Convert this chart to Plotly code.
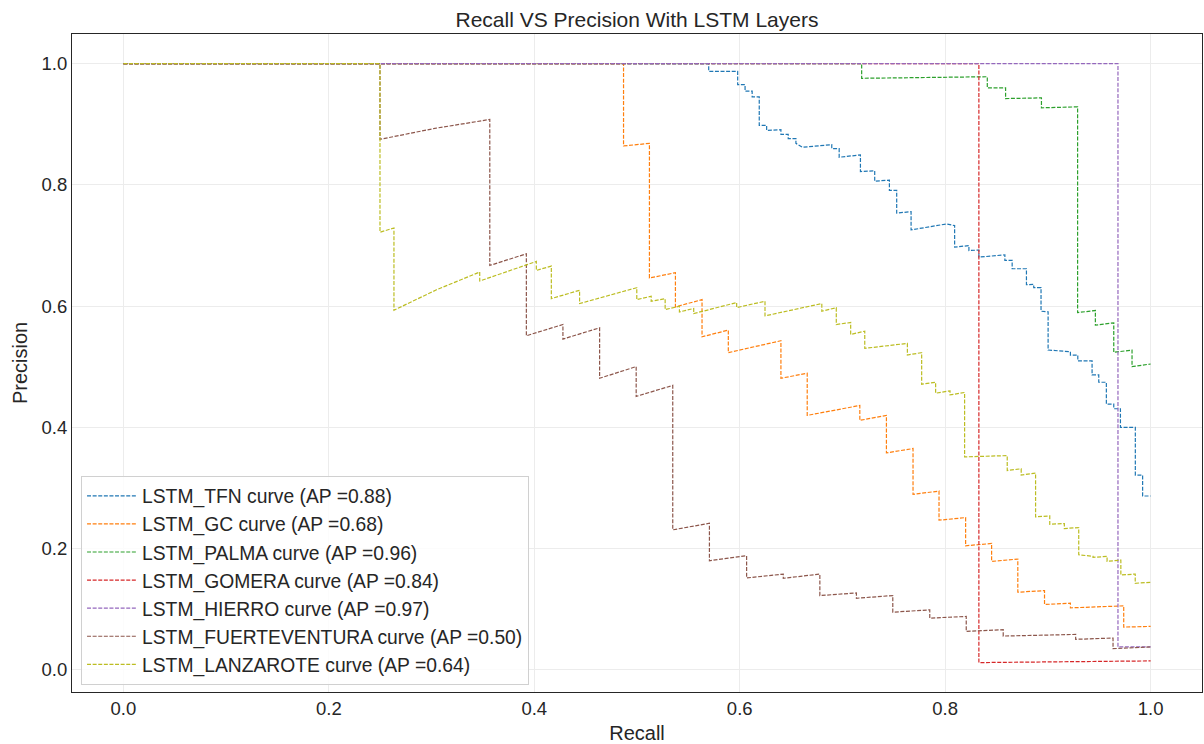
import plotly.graph_objects as go

# Precision-recall curves for each island model (recall, precision pairs)
tfn_recall = [0.0, 0.5698, 0.5698, 0.598, 0.598, 0.6052, 0.6052, 0.6121, 0.6121, 0.619, 0.619,
              0.6262, 0.6262, 0.6401, 0.6401, 0.6472, 0.6472, 0.6547, 0.6547, 0.6611, 0.6896, 0.6896,
              0.6968, 0.6968, 0.7175, 0.7175, 0.7314, 0.7314, 0.7457, 0.7457, 0.7528, 0.7528, 0.7668,
              0.7668, 0.8011, 0.8092, 0.8092, 0.8231, 0.8231, 0.8328, 0.8328, 0.8581, 0.8581, 0.8652,
              0.8652, 0.8791, 0.8791, 0.8862, 0.8862, 0.8933, 0.8933, 0.9002, 0.9002, 0.9219, 0.9219,
              0.9291, 0.9291, 0.943, 0.943, 0.9495, 0.9495, 0.9569, 0.9569, 0.9641, 0.9641, 0.9706,
              0.9706, 0.9851, 0.9851, 0.9922, 0.9922, 1.0]
tfn_precision = [1.0, 1.0, 0.9874, 0.9874, 0.9655, 0.9655, 0.9546, 0.9546, 0.9453, 0.9453, 0.8982,
                 0.8982, 0.89, 0.8911, 0.8834, 0.8834, 0.8763, 0.8763, 0.8686, 0.8621, 0.8664, 0.8599,
                 0.8599, 0.8457, 0.8495, 0.8221, 0.8232, 0.8062, 0.8079, 0.7909, 0.7909, 0.7537, 0.7559,
                 0.7258, 0.7356, 0.7329, 0.6973, 0.7, 0.6918, 0.6925, 0.6809, 0.6847, 0.6754, 0.6754,
                 0.6617, 0.6617, 0.6355, 0.636, 0.6305, 0.6305, 0.5917, 0.5906, 0.5276, 0.5249, 0.5194,
                 0.5194, 0.5096, 0.5096, 0.4866, 0.4866, 0.4745, 0.4745, 0.4384, 0.4384, 0.4308, 0.4308,
                 0.4001, 0.4001, 0.3213, 0.3213, 0.2868, 0.2868]

gc_recall = [0.0, 0.4869, 0.4869, 0.5121, 0.5121, 0.5374, 0.5374, 0.5633, 0.5633, 0.5889, 0.5889,
             0.6401, 0.6401, 0.6657, 0.6657, 0.7169, 0.7169, 0.7428, 0.7428, 0.7687, 0.7687, 0.794,
             0.794, 0.8199, 0.8199, 0.8452, 0.8452, 0.8707, 0.8707, 0.8967, 0.8967, 0.9219, 0.9219,
             0.9738, 0.9738, 1.0]
gc_precision = [1.0, 1.0, 0.8643, 0.8686, 0.6464, 0.6552, 0.5988, 0.6108, 0.5495, 0.5605, 0.5233,
                0.543, 0.4811, 0.4893, 0.4198, 0.4362, 0.4116, 0.4198, 0.358, 0.3651, 0.2895, 0.295,
                0.2469, 0.2512, 0.2047, 0.2085, 0.179, 0.1828, 0.1281, 0.1308, 0.1078, 0.11, 0.1023,
                0.1056, 0.0706, 0.0717]

palma_recall = [0.0, 0.7187, 0.7187, 0.841, 0.841, 0.8588, 0.8588, 0.8937, 0.8937, 0.9289, 0.9289,
                0.9462, 0.9462, 0.9641, 0.9641, 0.9819, 0.9819, 1.0]
palma_precision = [1.0, 1.0, 0.9759, 0.9785, 0.96, 0.96, 0.9425, 0.9436, 0.9272, 0.9288, 0.5895,
                   0.5928, 0.5687, 0.5725, 0.5238, 0.5276, 0.5003, 0.5046]

gomera_recall = [0.0, 0.8328, 0.8328, 1.0]
gomera_precision = [1.0, 1.0, 0.012, 0.0148]

hierro_recall = [0.0, 0.9682, 0.9682, 1.0]
hierro_precision = [1.0, 1.0, 0.0378, 0.0378]

fuerte_recall = [0.0, 0.2498, 0.2498, 0.3032, 0.3567, 0.3567, 0.3923, 0.3923, 0.4279, 0.4279, 0.4636,
                 0.4636, 0.4992, 0.4992, 0.5348, 0.5348, 0.5705, 0.5705, 0.6067, 0.6067, 0.6424, 0.6424,
                 0.678, 0.678, 0.7136, 0.7136, 0.749, 0.749, 0.785, 0.785, 0.8205, 0.8205, 0.8565,
                 0.8565, 0.927, 0.927, 0.9634, 0.9634, 1.0]
fuerte_precision = [1.0, 1.0, 0.8752, 0.8933, 0.908, 0.6672, 0.6864, 0.5512, 0.5698, 0.5457, 0.5643,
                    0.4811, 0.5003, 0.4511, 0.4693, 0.231, 0.2419, 0.18, 0.1883, 0.1516, 0.158, 0.1511,
                    0.158, 0.1226, 0.1269, 0.1182, 0.1226, 0.0952, 0.099, 0.0854, 0.0882, 0.0635, 0.0662,
                    0.0558, 0.0585, 0.0504, 0.0525, 0.035, 0.0378]

lanza_recall = [0.0, 0.2498, 0.2498, 0.2634, 0.2634, 0.3048, 0.3469, 0.3469, 0.402, 0.402, 0.4166,
                0.4166, 0.4441, 0.4441, 0.4998, 0.4998, 0.5138, 0.5138, 0.5274, 0.5274, 0.5413, 0.5413,
                0.5552, 0.5552, 0.597, 0.597, 0.6246, 0.6246, 0.6799, 0.6799, 0.694, 0.694, 0.708,
                0.708, 0.7217, 0.7217, 0.7632, 0.7632, 0.7771, 0.7771, 0.7907, 0.7907, 0.8047, 0.8047,
                0.8189, 0.8189, 0.8604, 0.8604, 0.874, 0.874, 0.888, 0.888, 0.9018, 0.9018, 0.916,
                0.916, 0.93, 0.93, 0.9439, 0.9439, 0.9576, 0.9576, 0.971, 0.971, 0.985, 0.985, 1.0]
lanza_precision = [1.0, 1.0, 0.722, 0.729, 0.5933, 0.627, 0.6563, 0.6415, 0.6738, 0.659, 0.6661,
                   0.6125, 0.6262, 0.6043, 0.6305, 0.6108, 0.6163, 0.6081, 0.6125, 0.5944, 0.5999,
                   0.5906, 0.5961, 0.5878, 0.6059, 0.5977, 0.6081, 0.584, 0.6043, 0.5917, 0.5975,
                   0.5698, 0.573, 0.5534, 0.5588, 0.5304, 0.5386, 0.5195, 0.5233, 0.4713, 0.4745,
                   0.4565, 0.4603, 0.4537, 0.4576, 0.3514, 0.3535, 0.3289, 0.3317, 0.3213, 0.3246,
                   0.2524, 0.254, 0.2402, 0.2414, 0.2332, 0.2348, 0.1899, 0.1872, 0.1856, 0.1872,
                   0.179, 0.1811, 0.1565, 0.1581, 0.1429, 0.1445]

series_names = ["LSTM_TFN", "LSTM_GC", "LSTM_PALMA", "LSTM_GOMERA", "LSTM_HIERRO",
                "LSTM_FUERTEVENTURA", "LSTM_LANZAROTE"]
average_precision = [0.88, 0.68, 0.96, 0.84, 0.97, 0.50, 0.64]
recalls = [tfn_recall, gc_recall, palma_recall, gomera_recall, hierro_recall, fuerte_recall, lanza_recall]
precisions = [tfn_precision, gc_precision, palma_precision, gomera_precision, hierro_precision,
              fuerte_precision, lanza_precision]
colors = ["#1f77b4", "#ff7f0e", "#2ca02c", "#d62728", "#9467bd", "#8c564b", "#bcbd22"]

TEXT = "#262626"
FONT = "Liberation Sans, Arial, sans-serif"

fig = go.Figure()
for name, ap, r, p, c in zip(series_names, average_precision, recalls, precisions, colors):
    fig.add_trace(go.Scatter(
        x=r, y=p, mode="lines",
        name=f"{name} curve (AP ={ap:.2f})",
        legendgroup=name,
        line=dict(color=c, width=1.2, dash="4px,1.6px"),
    ))

axis_common = dict(
    showgrid=True, gridcolor="#ececec", gridwidth=1,
    zeroline=False, showline=True, linecolor=TEXT, linewidth=1.2, mirror=True,
    ticks="", tickfont=dict(size=18.5, color=TEXT, family=FONT),
)

fig.update_layout(
    width=1204, height=744,
    margin=dict(l=71.5, r=0.5, t=34, b=49),
    paper_bgcolor="white", plot_bgcolor="white",
    font=dict(family=FONT, color=TEXT),
    title=dict(text="Recall VS Precision With LSTM Layers", x=0.5, xref="paper",
               y=1 - 20 / 744, yref="container", yanchor="middle",
               font=dict(size=21, color=TEXT, family=FONT)),
    xaxis=dict(axis_common, range=[-0.05, 1.05], tickvals=[0, 0.2, 0.4, 0.6, 0.8, 1.0],
               ticktext=["0.0", "0.2", "0.4", "0.6", "0.8", "1.0"],
               title=dict(text="Recall", font=dict(size=20, color=TEXT, family=FONT), standoff=10)),
    yaxis=dict(axis_common, range=[-0.0365, 1.049], tickvals=[0, 0.2, 0.4, 0.6, 0.8, 1.0],
               ticktext=["0.0", "0.2", "0.4", "0.6", "0.8", "1.0"],
               title=dict(text="Precision", font=dict(size=20, color=TEXT, family=FONT), standoff=8)),
    legend=dict(x=0.008, y=0.011, xanchor="left", yanchor="bottom",
                bgcolor="rgba(255,255,255,0.85)", bordercolor="#d0d0d0", borderwidth=1,
                font=dict(size=19.3, color=TEXT, family=FONT), tracegroupgap=0,
                itemwidth=50),
    showlegend=True,
)

fig.write_html("out.html")
